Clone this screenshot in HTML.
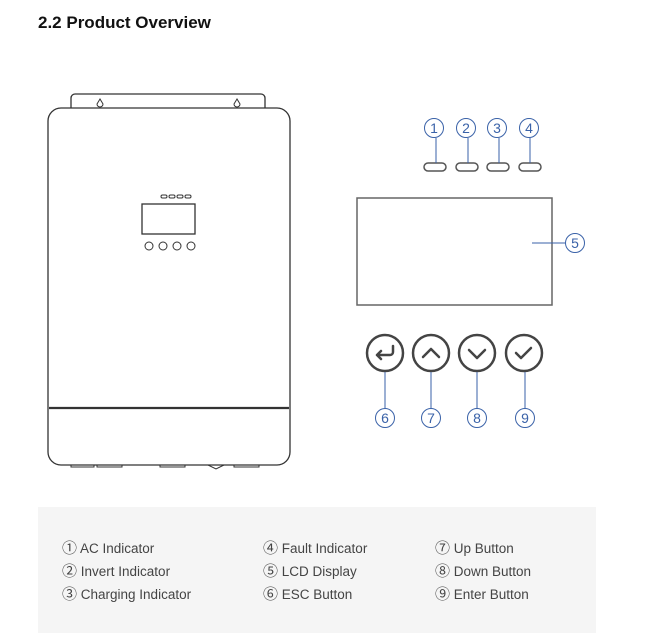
<!DOCTYPE html>
<html><head><meta charset="utf-8"><style>
body{margin:0;background:#fff;width:645px;height:639px;overflow:hidden;position:relative;font-family:"Liberation Sans","Noto Sans CJK SC",sans-serif}
h2{position:absolute;left:38px;top:13px;margin:0;font-size:17px;font-weight:bold;color:#111}
.box{position:absolute;left:38px;top:507px;width:558px;height:126px;background:#f5f5f5}
.t{position:absolute;font-size:13.5px;color:#444;white-space:nowrap}
.t span{font-size:15px}
</style></head><body>
<h2>2.2 Product Overview</h2>
<svg width="645" height="639" style="position:absolute;left:0;top:0" xmlns="http://www.w3.org/2000/svg">
<g fill="none" stroke="#333" stroke-width="1.3">
<path d="M71 108 V98 a4 4 0 0 1 4 -4 H261 a4 4 0 0 1 4 4 V108"/>
<path d="M100 99 l-3 5 a3 3 0 1 0 6 0 z M237 99 l-3 5 a3 3 0 1 0 6 0 z" stroke-width="1"/>
<rect x="48" y="108" width="242" height="357" rx="13"/>
<line x1="49" y1="408" x2="289" y2="408" stroke-width="2.2"/>
<rect x="142" y="204" width="53" height="30" stroke-width="1.3"/>
<g stroke-width="1"><rect x="161" y="195" width="6" height="3" rx="1.5"/><rect x="169" y="195" width="6" height="3" rx="1.5"/><rect x="177" y="195" width="6" height="3" rx="1.5"/><rect x="185" y="195" width="6" height="3" rx="1.5"/>
<circle cx="149" cy="246" r="4"/><circle cx="163" cy="246" r="4"/><circle cx="177" cy="246" r="4"/><circle cx="191" cy="246" r="4"/></g>
<path d="M71 465 v2 h23 v-2 M97 465 v2 h25 v-2 M160 465 v2 h25 v-2 M208 465 l8 4 l8 -4 M234 465 v2 h25 v-2" stroke-width="1"/>
<rect x="357" y="198" width="195" height="107" stroke="#666" stroke-width="1.5"/>
<g stroke="#555" stroke-width="1.5"><rect x="424" y="163" width="22" height="8" rx="4"/><rect x="456" y="163" width="22" height="8" rx="4"/><rect x="487" y="163" width="22" height="8" rx="4"/><rect x="519" y="163" width="22" height="8" rx="4"/></g>
<g stroke="#444" stroke-width="2.5"><circle cx="385" cy="353" r="18"/><circle cx="431" cy="353" r="18"/><circle cx="477" cy="353" r="18"/><circle cx="524" cy="353" r="18"/></g>
<g stroke="#444" stroke-width="2.5" stroke-linecap="round" stroke-linejoin="round">
<path d="M393 346 v6 a3 3 0 0 1 -3 3 h-13 M381 351 l-4 4 l4 4"/>
<path d="M423 357 l8 -8 l8 8"/><path d="M469 350 l8 8 l8 -8"/><path d="M516 353 l5 5 l10 -10"/></g>
<g stroke="#3a62a8" stroke-width="1"><circle cx="434" cy="128" r="9.5"/><circle cx="466" cy="128" r="9.5"/><circle cx="497" cy="128" r="9.5"/><circle cx="529" cy="128" r="9.5"/>
<line x1="436" y1="138" x2="436" y2="163"/><line x1="468" y1="138" x2="468" y2="163"/><line x1="499" y1="138" x2="499" y2="163"/><line x1="530" y1="138" x2="530" y2="163"/>
<circle cx="575" cy="243" r="9.5"/><line x1="532" y1="243" x2="565" y2="243"/>
<circle cx="385" cy="418" r="9.5"/><circle cx="431" cy="418" r="9.5"/><circle cx="477" cy="418" r="9.5"/><circle cx="525" cy="418" r="9.5"/>
<line x1="385" y1="372" x2="385" y2="408"/><line x1="431" y1="372" x2="431" y2="408"/><line x1="477" y1="372" x2="477" y2="408"/><line x1="525" y1="372" x2="525" y2="408"/></g>
</g>
<g fill="#3a62a8" font-family="Liberation Sans,sans-serif" font-size="14" text-anchor="middle">
<text x="434" y="133">1</text><text x="466" y="133">2</text><text x="497" y="133">3</text><text x="529" y="133">4</text><text x="575" y="248">5</text>
<text x="385" y="423">6</text><text x="431" y="423">7</text><text x="477" y="423">8</text><text x="525" y="423">9</text></g>
</svg>
<div class="box"></div>
<div class="t" style="left:62px;top:537px"><span>①</span> AC Indicator</div>
<div class="t" style="left:62px;top:560px"><span>②</span> Invert Indicator</div>
<div class="t" style="left:62px;top:583px"><span>③</span> Charging Indicator</div>
<div class="t" style="left:263px;top:537px"><span>④</span> Fault Indicator</div>
<div class="t" style="left:263px;top:560px"><span>⑤</span> LCD Display</div>
<div class="t" style="left:263px;top:583px"><span>⑥</span> ESC Button</div>
<div class="t" style="left:435px;top:537px"><span>⑦</span> Up Button</div>
<div class="t" style="left:435px;top:560px"><span>⑧</span> Down Button</div>
<div class="t" style="left:435px;top:583px"><span>⑨</span> Enter Button</div>
</body></html>
